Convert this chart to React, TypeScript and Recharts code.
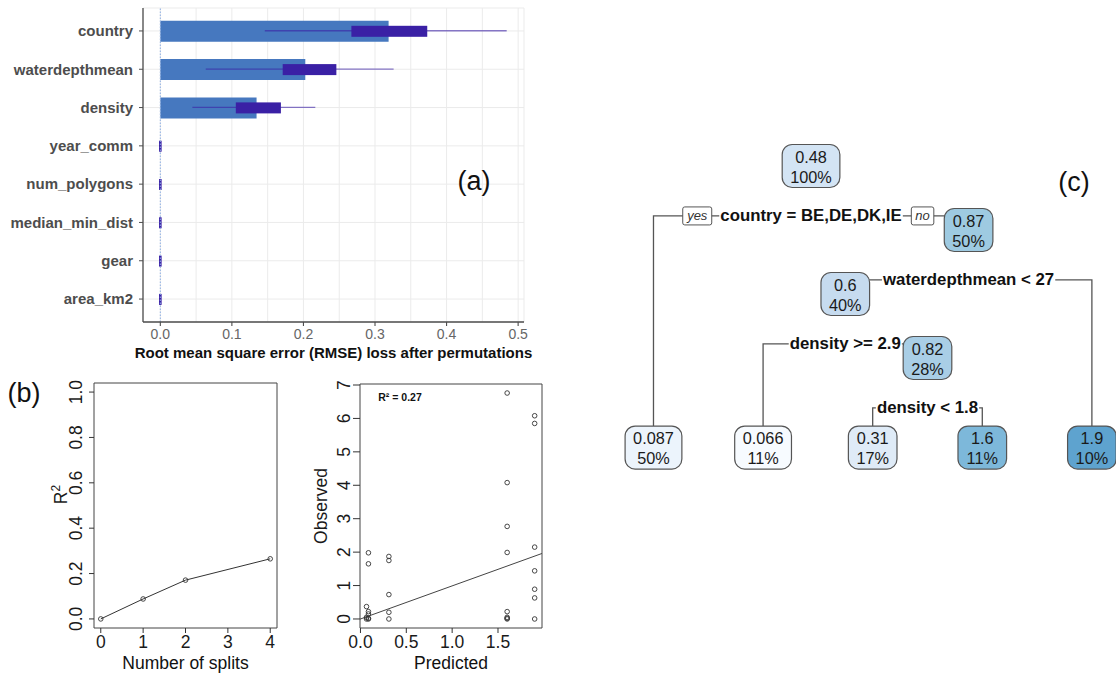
import React from "react";
import {
  ComposedChart,
  Bar,
  XAxis,
  YAxis,
  CartesianGrid,
  ReferenceLine,
  ReferenceArea,
  LineChart,
  Line,
  ScatterChart,
  Scatter,
} from "recharts";

const FONT = '"Liberation Sans", Arial, Helvetica, sans-serif';

// (a) permutation importance (RMSE loss)
const features = ["country", "waterdepthmean", "density", "year_comm", "num_polygons", "median_min_dist", "gear", "area_km2"];
const rmseLoss = [0.319, 0.2026, 0.1345, 0, 0, 0, 0, 0];
const boxLow = [0.267, 0.171, 0.1055, 0, 0, 0, 0, 0];
const boxHigh = [0.373, 0.246, 0.1685, 0, 0, 0, 0, 0];
const whiskerLow = [0.146, 0.0635, 0.0448, 0, 0, 0, 0, 0];
const whiskerHigh = [0.484, 0.326, 0.2166, 0, 0, 0, 0, 0];
const rmseTicks = [0, 0.1, 0.2, 0.3, 0.4, 0.5];
const rmseGrid = [0, 0.05, 0.1, 0.15, 0.2, 0.25, 0.3, 0.35, 0.4, 0.45, 0.5];

// (b) R2 vs number of splits
const splitCounts = [0, 1, 2, 4];
const rSquared = [0, 0.088, 0.171, 0.265];
const splitTicks = [0, 1, 2, 3, 4];
const r2Ticks = [0, 0.2, 0.4, 0.6, 0.8, 1];

// (b) observed vs predicted
const predicted = [
  0.087, 0.087, 0.087, 0.087, 0.087, 0.087,
  0.066, 0.066, 0.066,
  0.31, 0.31, 0.31, 0.31, 0.31,
  1.6, 1.6, 1.6, 1.6, 1.6, 1.6, 1.6, 1.6,
  1.9, 1.9, 1.9, 1.9, 1.9, 1.9, 1.9,
];
const observed = [
  1.98, 1.65, 0.22, 0.15, 0.02, 0,
  0.37, 0.05, 0,
  1.87, 1.75, 0.73, 0.2, 0,
  6.76, 4.08, 2.77, 1.99, 0.22, 0.05, 0.02, 0,
  6.08, 5.85, 2.15, 1.44, 0.89, 0.63, 0,
];
const predTicks = [0, 0.5, 1, 1.5];
const obsTicks = [0, 1, 2, 3, 4, 5, 6, 7];
const fitIntercept = 0.0;
const fitSlope = 0.99;

// (c) regression tree (rpart numbering: children of n are 2n, 2n+1)
const nodeIds = [1, 2, 3, 6, 7, 12, 13, 26, 27];
const nodeMeans = ["0.48", "0.087", "0.87", "0.6", "1.9", "0.066", "0.82", "0.31", "1.6"];
const nodeShares = ["100%", "50%", "50%", "40%", "10%", "11%", "28%", "17%", "11%"];
const splitIds = [1, 3, 6, 13];
const splitRules = ["country = BE,DE,DK,IE", "waterdepthmean < 27", "density >= 2.9", "density < 1.8"];

const NODE_FILL: Record<number, string> = {
  1: "#d3e4f4",
  2: "#ecf4fc",
  3: "#9ecae1",
  6: "#c6dbef",
  7: "#5ea3cf",
  12: "#f7fbff",
  13: "#a9cee6",
  26: "#dfebf7",
  27: "#7db8da",
};

// ---------- helpers ----------
const BOLD_W: Record<string, number> = {
  a: 0.556, c: 0.556, d: 0.611, e: 0.556, h: 0.611, i: 0.278, m: 0.889, n: 0.611, o: 0.611,
  p: 0.611, r: 0.389, s: 0.556, t: 0.333, u: 0.611, w: 0.778, y: 0.556,
  B: 0.722, D: 0.722, E: 0.667, I: 0.278, K: 0.722,
  " ": 0.278, "=": 0.584, "<": 0.584, ">": 0.584, ",": 0.278, ".": 0.278,
};
const REG_W: Record<string, number> = { ".": 0.278, "%": 0.889 };
const textWidth = (s: string, table: Record<string, number>, size: number) =>
  s.split("").reduce((acc, ch) => acc + (table[ch] ?? 0.556), 0) * size;

// ---------- panel (a) ----------
const rmseRows = features.map((feature, i) => ({
  feature,
  loss: rmseLoss[i],
  box: [boxLow[i], boxHigh[i]],
  whisker: [whiskerLow[i], whiskerHigh[i]],
}));

const WhiskerShape = (p: any) => {
  const { x, y, width, height } = p;
  if (!(width > 0.5)) return <g />;
  const cy = y + height / 2;
  return <line x1={x} x2={x + width} y1={cy} y2={cy} stroke="#3a20a5" strokeOpacity={0.6} strokeWidth={1.4} />;
};

const BoxShape = (p: any) => {
  const { x, y, width, height } = p;
  const w = Math.max(width || 0, 2.6);
  const x0 = (width || 0) < 2.6 ? x + (width || 0) / 2 - 1.3 : x;
  return <rect x={x0} y={y} width={w} height={height} fill="#3a20a5" />;
};

const RmseTick = (p: any) => {
  const { x, y, payload } = p;
  const v = payload.value;
  if (!rmseTicks.some((t) => Math.abs(t - v) < 1e-9)) return <g />;
  return (
    <g>
      <line x1={x} x2={x} y1={y - 4} y2={y} stroke="#4d4d4d" strokeWidth={1.1} />
      <text x={x} y={y + 3.5} dy="0.71em" textAnchor="middle" fontSize={14} fill="#666" fontFamily={FONT}>
        {v.toFixed(1)}
      </text>
    </g>
  );
};

const BottomTitle = (p: any) => {
  const { viewBox, text, by, size, bold } = p;
  return (
    <text
      x={viewBox.x + viewBox.width / 2}
      y={viewBox.y + by}
      textAnchor="middle"
      fontSize={size}
      fontWeight={bold ? 700 : 400}
      fill="#111"
      fontFamily={FONT}
    >
      {text}
    </text>
  );
};

function ImportancePanel() {
  return (
    <ComposedChart
      layout="vertical"
      width={545}
      height={370}
      data={rmseRows}
      margin={{ top: 8, right: 21, bottom: 0, left: 0 }}
    >
      <CartesianGrid stroke="#ebebeb" />
      <XAxis
        type="number"
        domain={[-0.0242, 0.5082]}
        allowDataOverflow
        ticks={rmseGrid}
        tickSize={4}
        tickMargin={0}
        tickLine={false}
        tick={<RmseTick />}
        height={48}
        axisLine={{ stroke: "#4d4d4d", strokeWidth: 1.3 }}
        label={<BottomTitle text="Root mean square error (RMSE) loss after permutations" by={35.5} size={15} bold />}
      />
      <YAxis
        type="category"
        dataKey="feature"
        width={143}
        interval={0}
        tickSize={4}
        tickMargin={6}
        padding={{ top: 3.8, bottom: 3.8 }}
        axisLine={{ stroke: "#4d4d4d", strokeWidth: 1.3 }}
        tickLine={{ stroke: "#4d4d4d" }}
        tick={{ fill: "#4d4d4d", fontSize: 15, fontWeight: 700, fontFamily: FONT }}
      />
      <YAxis yAxisId="w" type="category" dataKey="feature" hide padding={{ top: 3.8, bottom: 3.8 }} />
      <YAxis yAxisId="b" type="category" dataKey="feature" hide padding={{ top: 3.8, bottom: 3.8 }} />
      <ReferenceLine x={0} stroke="#8fb0e6" strokeDasharray="1.5 1.5" />
      <Bar dataKey="loss" barSize={21} fill="#4678bf" isAnimationActive={false} />
      <Bar yAxisId="w" dataKey="whisker" barSize={2} shape={<WhiskerShape />} isAnimationActive={false} />
      <Bar yAxisId="b" dataKey="box" barSize={11} shape={<BoxShape />} isAnimationActive={false} />
    </ComposedChart>
  );
}

// ---------- panel (b) ----------
const RotTick = (p: any) => {
  const { x, y, payload, fmt } = p;
  return (
    <text
      x={x}
      y={y}
      transform={`rotate(-90 ${x} ${y})`}
      textAnchor="middle"
      fontSize={17.5}
      fill="#1a1a1a"
      fontFamily={FONT}
    >
      {fmt(payload.value)}
    </text>
  );
};

const FlatTick = (p: any) => {
  const { x, y, payload, fmt } = p;
  return (
    <text x={x} y={y} dy="0.71em" textAnchor="middle" fontSize={17.5} fill="#1a1a1a" fontFamily={FONT}>
      {fmt(payload.value)}
    </text>
  );
};

const RotTitle = (p: any) => {
  const { viewBox, text, sup, bx, shift } = p;
  const cy = viewBox.y + viewBox.height / 2 + (shift || 0);
  return (
    <text
      x={bx}
      y={cy}
      transform={`rotate(-90 ${bx} ${cy})`}
      textAnchor="middle"
      fontSize={17.5}
      fill="#1a1a1a"
      fontFamily={FONT}
    >
      {text}
      {sup ? (
        <tspan dy={-7} fontSize={12}>
          {sup}
        </tspan>
      ) : null}
    </text>
  );
};

const OpenDot = (p: any) => {
  const { cx, cy } = p;
  if (cx == null || cy == null) return <g />;
  return <circle cx={cx} cy={cy} r={2.3} fill="none" stroke="#333" strokeWidth={0.9} />;
};

const splitRows = splitCounts.map((s, i) => ({ splits: s, r2: rSquared[i] }));
const SPLIT_X: [number, number] = [-0.16, 4.16];
const R2_Y: [number, number] = [-0.04, 1.04];

function SplitsPanel() {
  return (
    <LineChart width={290} height={307} data={splitRows} margin={{ top: 13, right: 13, bottom: 0, left: 0 }}>
      <XAxis
        type="number"
        dataKey="splits"
        domain={SPLIT_X}
        allowDataOverflow
        ticks={splitTicks}
        height={49}
        tickSize={5}
        tickMargin={3}
        axisLine={false}
        tickLine={{ stroke: "#333" }}
        tick={<FlatTick fmt={(v: number) => String(v)} />}
        label={<BottomTitle text="Number of splits" by={41} size={17.5} />}
      />
      <YAxis
        type="number"
        domain={R2_Y}
        allowDataOverflow
        ticks={r2Ticks}
        width={94}
        tickSize={5}
        tickMargin={7}
        axisLine={false}
        tickLine={{ stroke: "#333" }}
        tick={<RotTick fmt={(v: number) => v.toFixed(1)} />}
        label={<RotTitle text="R" sup="2" bx={67} shift={-11} />}
      />
      <ReferenceArea
        x1={SPLIT_X[0]}
        x2={SPLIT_X[1]}
        y1={R2_Y[0]}
        y2={R2_Y[1]}
        fill="none"
        fillOpacity={0}
        stroke="#444"
        strokeWidth={1}
        ifOverflow="visible"
      />
      <Line
        dataKey="r2"
        stroke="#333"
        strokeWidth={1}
        dot={<OpenDot />}
        isAnimationActive={false}
      />
    </LineChart>
  );
}

const fitRows = predicted.map((x, i) => ({ x, y: observed[i] }));
const PRED_X: [number, number] = [-0.005, 1.98];
const OBS_Y: [number, number] = [-0.27, 7.03];

function FitPanel() {
  return (
    <ScatterChart width={270} height={307} margin={{ top: 14, right: 18, bottom: 0, left: 0 }}>
      <XAxis
        type="number"
        dataKey="x"
        domain={PRED_X}
        allowDataOverflow
        ticks={predTicks}
        height={49}
        tickSize={5}
        tickMargin={3}
        axisLine={false}
        tickLine={{ stroke: "#333" }}
        tick={<FlatTick fmt={(v: number) => v.toFixed(1)} />}
        label={<BottomTitle text="Predicted" by={40.5} size={17.5} />}
      />
      <YAxis
        type="number"
        dataKey="y"
        domain={OBS_Y}
        allowDataOverflow
        ticks={obsTicks}
        width={70}
        tickSize={7}
        tickMargin={3}
        axisLine={false}
        tickLine={{ stroke: "#333" }}
        tick={<RotTick fmt={(v: number) => String(v)} />}
        label={<RotTitle text="Observed" bx={37} shift={0} />}
      />
      <ReferenceArea
        x1={PRED_X[0]}
        x2={PRED_X[1]}
        y1={OBS_Y[0]}
        y2={OBS_Y[1]}
        fill="none"
        fillOpacity={0}
        stroke="#444"
        strokeWidth={1}
        ifOverflow="visible"
      />
      <ReferenceLine
        segment={[
          { x: PRED_X[0], y: fitIntercept + fitSlope * PRED_X[0] },
          { x: PRED_X[1], y: fitIntercept + fitSlope * PRED_X[1] },
        ]}
        stroke="#444"
        strokeWidth={1}
        ifOverflow="visible"
      />
      <Scatter data={fitRows} shape={<OpenDot />} isAnimationActive={false} />
    </ScatterChart>
  );
}

// ---------- panel (c) ----------
const LEAF_LEVEL = 4.4;
const SPLIT_DROP = 0.78;
const layout = new Map<number, { x: number; y: number }>();
let leafCounter = 0;
const place = (id: number): { x: number; y: number } => {
  const depth = Math.floor(Math.log2(id));
  if (!splitIds.includes(id)) {
    const p = { x: leafCounter++, y: LEAF_LEVEL };
    layout.set(id, p);
    return p;
  }
  const l = place(2 * id);
  const r = place(2 * id + 1);
  const p = { x: (l.x + r.x) / 2, y: depth };
  layout.set(id, p);
  return p;
};
place(1);

const treeNodes = nodeIds.map((id, i) => ({ id, ...layout.get(id)!, mean: nodeMeans[i], share: nodeShares[i] }));
const treeSplits = splitIds.map((id, i) => {
  const p = layout.get(id)!;
  return { id, x: p.x, y: p.y + SPLIT_DROP, rule: splitRules[i] };
});
const treeEdges = splitIds.map((id) => {
  const p = layout.get(id)!;
  const l = layout.get(2 * id)!;
  const r = layout.get(2 * id + 1)!;
  const s = p.y + SPLIT_DROP;
  return [
    { x: l.x, y: l.y },
    { x: l.x, y: s },
    { x: r.x, y: s },
    { x: r.x, y: r.y },
  ];
});

const NodeBox = (p: any) => {
  const { cx, cy, payload } = p;
  const size = 16.3;
  const w = Math.max(textWidth(payload.mean, REG_W, size), textWidth(payload.share, REG_W, size)) + 16;
  const h = 43;
  return (
    <g>
      <rect x={cx - w / 2} y={cy - h / 2} width={w} height={h} rx={10} ry={10} fill={NODE_FILL[payload.id]} stroke="#555" strokeWidth={1.2} />
      <text x={cx} y={cy - 9.5} textAnchor="middle" dominantBaseline="central" fontSize={size} fill="#1a1a1a" fontFamily={FONT}>
        {payload.mean}
      </text>
      <text x={cx} y={cy + 10.5} textAnchor="middle" dominantBaseline="central" fontSize={size} fill="#1a1a1a" fontFamily={FONT}>
        {payload.share}
      </text>
    </g>
  );
};

const SplitText = (p: any) => {
  const { cx, cy, payload } = p;
  const size = 16.8;
  const w = textWidth(payload.rule, BOLD_W, size);
  const left = cx - w / 2;
  const right = cx + w / 2;
  const yesW = 29;
  const noW = 22.5;
  return (
    <g>
      <rect x={left - 1} y={cy - 8} width={w + 2} height={16} fill="#fff" />
      <text x={cx} y={cy} textAnchor="middle" dominantBaseline="central" fontSize={size} fontWeight={700} fill="#111" fontFamily={FONT}>
        {payload.rule}
      </text>
      {payload.id === 1 ? (
        <g>
          <rect x={left - 8.5 - yesW} y={cy - 9} width={yesW} height={18} rx={2} fill="#fff" stroke="#555" strokeWidth={1} />
          <text x={left - 8.5 - yesW / 2} y={cy} textAnchor="middle" dominantBaseline="central" fontSize={13} fontStyle="italic" fill="#333" fontFamily={FONT}>
            yes
          </text>
          <rect x={right + 9.5} y={cy - 9} width={noW} height={18} rx={2} fill="#fff" stroke="#555" strokeWidth={1} />
          <text x={right + 9.5 + noW / 2} y={cy} textAnchor="middle" dominantBaseline="central" fontSize={13} fontStyle="italic" fill="#333" fontFamily={FONT}>
            no
          </text>
        </g>
      ) : null}
    </g>
  );
};

const Nothing = () => <g />;

function TreePanel() {
  return (
    <ScatterChart width={516} height={350} margin={{ top: 0, right: 0, bottom: 0, left: 0 }}>
      <XAxis type="number" dataKey="x" domain={[-0.488, 4.22]} allowDataOverflow hide />
      <YAxis type="number" dataKey="y" domain={[-0.5625, 4.906]} allowDataOverflow reversed hide />
      {treeEdges.map((pts, i) => (
        <Scatter
          key={`edge-${i}`}
          data={pts}
          line={{ stroke: "#555", strokeWidth: 1.3 }}
          shape={<Nothing />}
          isAnimationActive={false}
        />
      ))}
      <Scatter data={treeSplits} shape={<SplitText />} isAnimationActive={false} />
      <Scatter data={treeNodes} shape={<NodeBox />} isAnimationActive={false} />
    </ScatterChart>
  );
}

export default function App() {
  return (
    <div
      style={{
        position: "absolute",
        left: 0,
        top: 0,
        width: 1116,
        height: 677,
        background: "#fff",
        overflow: "hidden",
        fontFamily: FONT,
      }}
    >
      <div style={{ position: "absolute", left: 0, top: 0 }}>
        <ImportancePanel />
      </div>
      <div style={{ position: "absolute", left: 0, top: 370 }}>
        <SplitsPanel />
      </div>
      <div style={{ position: "absolute", left: 290, top: 370 }}>
        <FitPanel />
      </div>
      <div style={{ position: "absolute", left: 600, top: 130 }}>
        <TreePanel />
      </div>
      <svg width={1116} height={677} style={{ position: "absolute", left: 0, top: 0, pointerEvents: "none" }}>
        <text x={474} y={181} textAnchor="middle" dominantBaseline="central" fontSize={27} fill="#111" fontFamily={FONT}>
          (a)
        </text>
        <text x={24} y={393} textAnchor="middle" dominantBaseline="central" fontSize={27} fill="#111" fontFamily={FONT}>
          (b)
        </text>
        <text x={1074} y={182} textAnchor="middle" dominantBaseline="central" fontSize={27} fill="#111" fontFamily={FONT}>
          (c)
        </text>
        <text x={400} y={397} textAnchor="middle" dominantBaseline="central" fontSize={10.5} fontWeight={700} fill="#111" fontFamily={FONT}>
          R² = 0.27
        </text>
      </svg>
    </div>
  );
}
